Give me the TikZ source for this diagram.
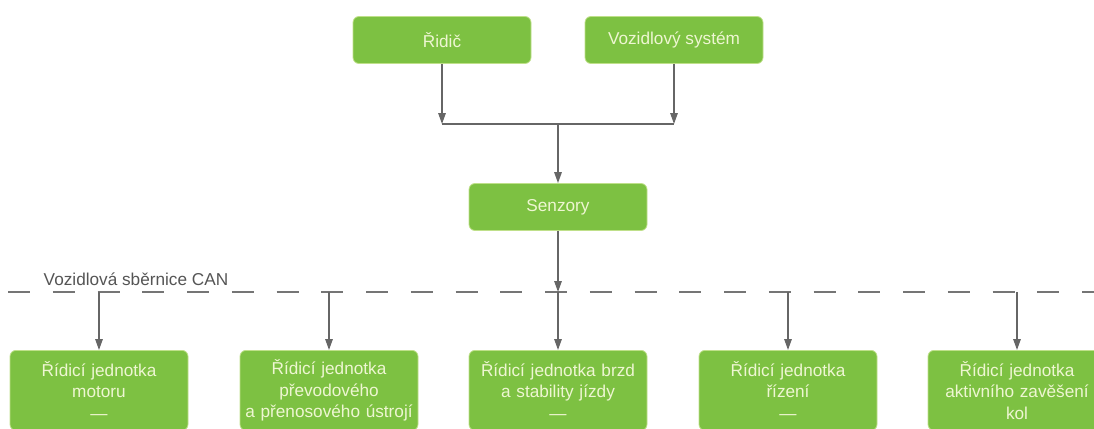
\documentclass[tikz,border=0pt]{standalone}
\usepackage{fontspec}
\setmainfont{Liberation Sans}
\usetikzlibrary{arrows.meta}
\definecolor{boxgreen}{HTML}{7DC142}
\definecolor{boxedge}{HTML}{BFE08A}
\definecolor{boxtext}{HTML}{EEF6D2}
\definecolor{linegray}{HTML}{666666}
\definecolor{labelgray}{HTML}{555555}
\tikzset{
  greenbox/.style={rounded corners=6pt, fill=boxgreen, draw=boxedge, line width=0.8pt,
    text=boxtext, font=\fontsize{17.2}{21.5}\selectfont, align=center, inner sep=0pt},
  topbox/.style={greenbox, minimum width=178pt, minimum height=47pt},
  botbox/.style={greenbox, minimum width=178pt, minimum height=80pt, text width=178pt, anchor=north},
  flow/.style={draw=linegray, line width=1.4pt, -{Triangle[length=11pt,width=7.5pt]}},
  plainline/.style={draw=linegray, line width=1.4pt},
  busline/.style={draw=linegray!90, line width=1.3pt, dash pattern=on 22pt off 22.75pt, dash phase=36.75pt}
}
\begin{document}
\begin{tikzpicture}[x=1pt,y=-1pt]
\clip (0,0) rectangle (1094,428);
\useasboundingbox (0,0) rectangle (1094,428);
\fill[white] (0,0) rectangle (1094,428);

% top boxes
\node[topbox] (ridic) at (442,40) {Řidič};
\node[topbox] (vozsys) at (674,40) {Vozidlový systém};
\node[topbox] (senz) at (558,207) {Senzory};

% junction
\coordinate (jl) at (442,124);
\coordinate (jr) at (674,124);
\coordinate (jm) at (558,124);
\draw[flow] (ridic.south) -- (jl);
\draw[flow] (vozsys.south) -- (jr);
\draw[plainline] (jl) -- (jr);
\draw[flow] (jm) -- (senz.north);

% bus
\coordinate (busL) at (0,292);
\coordinate (busR) at (1094,292);
\draw[busline] (busL) -- (busR);
\node[text=labelgray, font=\fontsize{17.2}{20}\selectfont, inner sep=0pt] (buslabel) at (136,279) {Vozidlová sběrnice CAN};

% bottom boxes
\node[botbox] (u1) at (99,350) {Řídicí jednotka\\motoru\\—};
\node[botbox] (u2) at (329,350) {Řídicí jednotka\\převodového\\a přenosového ústrojí};
\node[botbox] (u3) at (558,350) {Řídicí jednotka brzd\\a stability jízdy\\—};
\node[botbox] (u4) at (788,350) {Řídicí jednotka\\řízení\\—};
\node[botbox] (u5) at (1017,350) {Řídicí jednotka\\aktivního zavěšení\\kol};

% bus drops
\coordinate (b1) at (99,292);
\coordinate (b2) at (329,292);
\coordinate (b3) at (558,292);
\coordinate (b4) at (788,292);
\coordinate (b5) at (1017,292);
\draw[flow] (senz.south) -- (b3);
\draw[flow] (b1) -- (u1.north);
\draw[flow] (b2) -- (u2.north);
\draw[flow] (b3) -- (u3.north);
\draw[flow] (b4) -- (u4.north);
\draw[flow] (b5) -- (u5.north);
\end{tikzpicture}
\end{document}
